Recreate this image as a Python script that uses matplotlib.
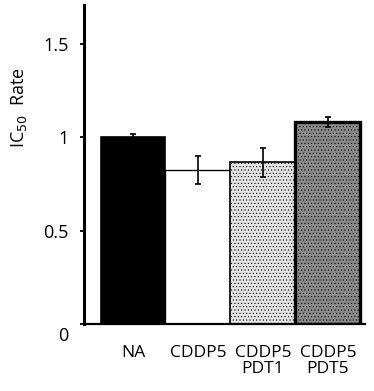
import numpy as np
import matplotlib.pyplot as plt
import matplotlib.transforms as mtransforms

# data
groups = ['NA', 'CDDP5', 'CDDP5\nPDT1', 'CDDP5\nPDT5']
ic50_rate = [1.0, 0.825, 0.865, 1.08]
ic50_err = [0.015, 0.075, 0.077, 0.025]

fills = ['black', 'white', '#e4e4e4', '#8a8a8a']
hatches = [None, None, '.....', '.....']
edge_w = [1.2, 1.0, 1.2, 2.4]

plt.rcParams['font.family'] = ['Open Sans', 'DejaVu Sans']
plt.rcParams['hatch.linewidth'] = 0.4

fig = plt.figure(figsize=(3.74, 3.91), dpi=100)
ax = fig.add_axes([0.2246, 0.1714, 0.7514, 0.8156])

x = np.arange(len(groups))
for i in range(len(groups)):
    ax.bar(x[i], ic50_rate[i], width=1.0, color=fills[i], edgecolor='black',
           linewidth=edge_w[i], hatch=hatches[i], zorder=2)
ax.errorbar(x, ic50_rate, yerr=ic50_err, fmt='none', ecolor='black',
            elinewidth=1.2, capsize=2.5, capthick=1.2, zorder=3)

ax.set_xlim(-0.754, 3.57)
ax.set_ylim(0, 1.706)
ax.set_yticks([0, 0.5, 1, 1.5])
ax.set_yticklabels(['0', '0.5', '1', '1.5'])
ax.set_xticks(x)
ax.set_xticklabels(groups, linespacing=1.0)
ax.tick_params(axis='y', direction='out', length=3, width=1.3, pad=8, labelsize=13)
ax.tick_params(axis='x', length=0, pad=15, labelsize=12.5)

# the zero label sits a little below the baseline in the original
zero_lab = ax.get_yticklabels()[0]
zero_lab.set_transform(zero_lab.get_transform() +
                       mtransforms.ScaledTranslation(0, -10 / 100, fig.dpi_scale_trans))

ax.spines['top'].set_visible(False)
ax.spines['right'].set_visible(False)
ax.spines['left'].set_linewidth(2.2)
ax.spines['bottom'].set_linewidth(1.6)

ax.set_ylabel('IC$_{50}$  Rate', fontsize=13)
ax.yaxis.set_label_coords(-0.195, 0.68)

plt.savefig('out.png', dpi=100)
